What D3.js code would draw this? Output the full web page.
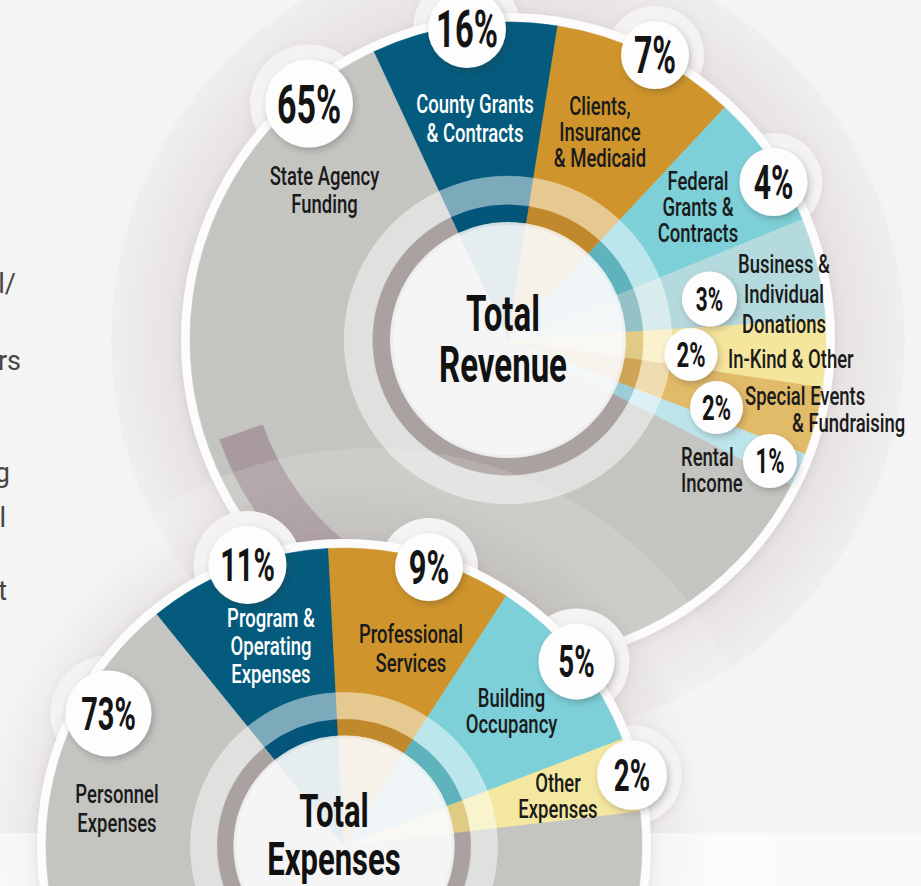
<!DOCTYPE html>
<html><head><meta charset="utf-8">
<script src="https://cdn.jsdelivr.net/npm/d3@7"></script>
<style>html,body{margin:0;padding:0;background:#f5f4f4;overflow:hidden}svg{display:block}</style>
</head><body><svg id="c" width="921" height="886"></svg>
<script>
// ---------------- DATA ----------------
const revenueCategories = ["County Grants & Contracts","Clients, Insurance & Medicaid","Federal Grants & Contracts","Business & Individual Donations","In-Kind & Other","Special Events & Fundraising","Rental Income","State Agency Funding"];
const revenueValues = [16, 7, 4, 3, 2, 2, 1, 65];
const revenueLabelLines = [["County Grants","& Contracts"],["Clients,","Insurance","& Medicaid"],["Federal","Grants &","Contracts"],["Business &","Individual","Donations"],["In-Kind & Other"],["Special Events","& Fundraising"],["Rental","Income"],["State Agency","Funding"]];
const revenueTitle = ["Total","Revenue"];

const expenseCategories = ["Program & Operating Expenses","Professional Services","Building Occupancy","Other Expenses","Personnel Expenses"];
const expenseValues = [11, 9, 5, 2, 73];
const expenseLabelLines = [["Program &","Operating","Expenses"],["Professional","Services"],["Building","Occupancy"],["Other","Expenses"],["Personnel","Expenses"]];
const expenseTitle = ["Total","Expenses"];

const sideFragments = ["l/","rs","g","l","t"];

// ---------------- LAYOUT / STYLE ----------------
const revenueLayout = {
  cx:508, cy:340, R:318, startDeg:-25,
  angle: d3.scaleLinear().domain([0,5.5]).range([0,34]).clamp(true),
  colors:["#045b7d","#cf952c","#7dcfd8","#b5dadd","#f5e69e","#e2bb69","#bce4eb","#c4c4c1"],
  rings:["#03567a","#c1882c","#5fb3bd","#95c2c7","#e0cb84","#cfa555","#9ccdd6","#aaa2a1"],
  bubbles:[[-41,-311,39,52],[147,-285,34,51],[265.5,-158,34,48],[201.5,-41,27.5,33],[183,14.5,26.5,35],[208.5,67.5,26.5,35],[262,121,27,35],[-199,-236.5,44,54]],
  puff:[1,1,1,0,0,0,0,1],
  labels:[
    {x:[-33],y:-227,lh:29,anchor:"middle",fill:"#ffffff"},
    {x:[92],y:-225,lh:26,anchor:"middle"},
    {x:[190],y:-150,lh:26,anchor:"middle"},
    {x:[276],y:-67,lh:30,anchor:"middle"},
    {x:[220],y:28,lh:26,anchor:"start"},
    {x:[237,284],y:65,lh:27,anchor:"start"},
    {x:[173],y:126,lh:26,anchor:"start"},
    {x:[-183.5],y:-155,lh:28,anchor:"middle"}
  ],
  title:{dx:-5, dy:[-9,42], size:50}
};
const expenseLayout = {
  cx:344, cy:846, R:298, startDeg:-39,
  angle: d3.scaleLinear().domain([0,5]).range([0,36]).clamp(true),
  colors:["#045b7d","#cf952c","#7dcfd8","#f4e7a0","#c4c4c1"],
  rings:["#03567a","#c1882c","#5fb3bd","#e0cb84","#aaa2a1"],
  bubbles:[[-96.5,-281,39,46],[85,-279,34,49],[232.5,-184.5,38,44],[288,-71,35,44],[-235.5,-132.5,43,46]],
  puff:[1,1,1,1,1],
  labels:[
    {x:[-73],y:-219,lh:28,anchor:"middle",fill:"#ffffff"},
    {x:[67],y:-203,lh:29,anchor:"middle"},
    {x:[167.5],y:-139,lh:26,anchor:"middle"},
    {x:[214],y:-54,lh:26,anchor:"middle"},
    {x:[-227],y:-43,lh:29,anchor:"middle"}
  ],
  title:{dx:-10, dy:[-19,29], size:47}
};
const FONT = "Roboto, 'Open Sans', 'DejaVu Sans', sans-serif";
const LABEL_SX = 0.74, PCT_SX = 0.63, TITLE_SX = 0.66;

// ---------------- DRAW ----------------
const svg = d3.select("#c");
const defs = svg.append("defs");
defs.append("filter").attr("id","bshadow").attr("x","-50%").attr("y","-50%").attr("width","200%").attr("height","200%")
  .append("feDropShadow").attr("dx",2).attr("dy",3).attr("stdDeviation",3).attr("flood-color","#3a2a2a").attr("flood-opacity",0.28);
defs.append("filter").attr("id","rshadow").attr("x","-20%").attr("y","-20%").attr("width","140%").attr("height","140%")
  .append("feDropShadow").attr("dx",0).attr("dy",2).attr("stdDeviation",5).attr("flood-color","#7a6060").attr("flood-opacity",0.18);
defs.append("filter").attr("id","pshadow").attr("x","-50%").attr("y","-50%").attr("width","200%").attr("height","200%")
  .append("feDropShadow").attr("dx",1).attr("dy",2).attr("stdDeviation",4).attr("flood-color","#7a6060").attr("flood-opacity",0.12);

function halo(id, L, ext, c0, c1) {
  const g = defs.append("radialGradient").attr("id",id).attr("gradientUnits","userSpaceOnUse")
    .attr("cx",L.cx).attr("cy",L.cy).attr("r",L.R+ext);
  g.append("stop").attr("offset",L.R/(L.R+ext)).attr("stop-color",c0);
  g.append("stop").attr("offset",1).attr("stop-color",c1);
}
halo("revHalo", revenueLayout, 79, "#e5e0e0", "#f0eeee");
{
  const L = expenseLayout, ext = 70;
  const g = defs.append("radialGradient").attr("id","expHalo").attr("gradientUnits","userSpaceOnUse")
    .attr("cx",L.cx).attr("cy",L.cy).attr("r",L.R+ext);
  g.append("stop").attr("offset",L.R/(L.R+ext)).attr("stop-color","#6e5050").attr("stop-opacity",0.1);
  g.append("stop").attr("offset",1).attr("stop-color","#6e5050").attr("stop-opacity",0);
}
{
  const g = defs.append("linearGradient").attr("id","mauve").attr("gradientUnits","userSpaceOnUse")
    .attr("x1",0).attr("y1",420).attr("x2",0).attr("y2",560);
  g.append("stop").attr("offset",0).attr("stop-color","#a5969c");
  g.append("stop").attr("offset",0.2).attr("stop-color","#a5969c");
  g.append("stop").attr("offset",0.35).attr("stop-color","#bfb3b7");
  g.append("stop").attr("offset",1).attr("stop-color","#c4b9bc");
}

const rad = d => d*Math.PI/180;

function buildPie(L, values) {
  const maxV = d3.max(values);
  const degs = values.map(v => v === maxV ? 0 : L.angle(v));
  const rest = 360 - d3.sum(degs);
  const rows = values.map((v,i) => ({i, value:v, deg: v === maxV ? rest : degs[i]}));
  return d3.pie().sort(null).value(d => d.deg)
    .startAngle(rad(L.startDeg)).endAngle(rad(L.startDeg)+2*Math.PI)(rows);
}

function drawPuffs(L, g) {
  L.bubbles.forEach((b,i) => {
    if (!L.puff[i]) return;
    g.append("circle").attr("cx",L.cx+b[0]).attr("cy",L.cy+b[1]).attr("r",b[2]+15)
      .attr("fill","#f4f2f2").attr("filter","url(#pshadow)");
  });
}

function drawPie(L, values, g) {
  const arcs = buildPie(L, values);
  const R = L.R;
  g.append("circle").attr("cx",L.cx).attr("cy",L.cy).attr("r",R+9).attr("fill","#fcfcfc").attr("filter","url(#rshadow)");
  const pg = g.append("g").attr("transform",`translate(${L.cx},${L.cy})`);
  const layers = [
    {ir:0.515*R, or:R, col:(i)=>L.colors[i]},
    {ir:0.425*R, or:0.515*R, col:(i)=>d3.interpolateRgb(L.colors[i],"#ffffff")(0.48)},
    {ir:0.37*R, or:0.425*R, col:(i)=>L.rings[i]},
    {ir:0, or:0.37*R, col:(i)=>d3.interpolateRgb(L.colors[i],"#f4f4f4")(0.86)}
  ];
  layers.forEach(ly => {
    const arc = d3.arc().innerRadius(ly.ir).outerRadius(ly.or);
    pg.selectAll(null).data(arcs).join("path")
      .attr("d",arc).attr("fill",d=>ly.col(d.data.i)).attr("stroke",d=>ly.col(d.data.i)).attr("stroke-width",0.6);
  });
  return {arcs, pg};
}

function drawCenter(L, titleLines, g) {
  const R = L.R;
  g.append("circle").attr("cx",L.cx).attr("cy",L.cy).attr("r",0.362*R).attr("fill","#ffffff").attr("opacity",0.45);
  titleLines.forEach((t,k) => {
    g.append("text").attr("transform",`translate(${L.cx+L.title.dx},${L.cy+L.title.dy[k]}) scale(${TITLE_SX},1)`)
      .attr("text-anchor","middle").attr("font-family",FONT).attr("font-weight",700)
      .attr("font-size",L.title.size).attr("fill","#111").text(t);
  });
}

function drawLabels(L, values, lines, g) {
  lines.forEach((ls,i) => {
    const lb = L.labels[i];
    ls.forEach((t,k) => {
      const x = lb.x[Math.min(k, lb.x.length-1)];
      g.append("text").attr("transform",`translate(${L.cx+x},${L.cy+lb.y+k*lb.lh}) scale(${LABEL_SX},1)`)
        .attr("text-anchor",lb.anchor).attr("font-family",FONT).attr("font-weight",500)
        .attr("font-size",25).attr("fill",lb.fill||"#1a1a1a").text(t);
    });
  });
  values.forEach((v,i) => {
    const b = L.bubbles[i];
    const x = L.cx+b[0], y = L.cy+b[1];
    g.append("circle").attr("cx",x).attr("cy",y).attr("r",b[2]).attr("fill","#fdfdfd").attr("filter","url(#bshadow)");
    g.append("text").attr("transform",`translate(${x},${y+0.355*b[3]}) scale(${PCT_SX},1)`)
      .attr("text-anchor","middle").attr("font-family",FONT).attr("font-weight",700)
      .attr("font-size",b[3]).attr("fill","#141414").text(v+"%");
  });
}

const L1 = revenueLayout, L2 = expenseLayout;
svg.append("circle").attr("cx",L1.cx).attr("cy",L1.cy).attr("r",L1.R+79).attr("fill","url(#revHalo)");
const gRev = svg.append("g");
drawPuffs(L1, gRev);
drawPie(L1, revenueValues, gRev);
gRev.append("path").attr("transform",`translate(${L1.cx},${L1.cy})`)
  .attr("d", d3.arc().innerRadius(0.815*L1.R).outerRadius(0.96*L1.R).startAngle(rad(216)).endAngle(rad(251))())
  .attr("fill","url(#mauve)").attr("opacity",0.9);
drawCenter(L1, revenueTitle, gRev);
drawLabels(L1, revenueValues, revenueLabelLines, gRev);

svg.append("circle").attr("cx",L2.cx+28).attr("cy",L2.cy+4).attr("r",402).attr("fill","#ffffff").attr("opacity",0.14);
svg.append("circle").attr("cx",L2.cx).attr("cy",L2.cy).attr("r",L2.R+70).attr("fill","url(#expHalo)");
svg.append("rect").attr("x",0).attr("y",833).attr("width",921).attr("height",53).attr("fill","#ffffff").attr("opacity",0.55);
const gExp = svg.append("g");
drawPuffs(L2, gExp);
drawPie(L2, expenseValues, gExp);
drawCenter(L2, expenseTitle, gExp);
drawLabels(L2, expenseValues, expenseLabelLines, gExp);

const sidePos = [[16,293],[21,370],[10,482],[6,527],[7,600]];
sideFragments.forEach((t,i) => {
  svg.append("text").attr("x",sidePos[i][0]).attr("y",sidePos[i][1]).attr("text-anchor","end")
    .attr("font-family",FONT).attr("font-size",27).attr("fill","#454545").text(t);
});
</script></body></html>
